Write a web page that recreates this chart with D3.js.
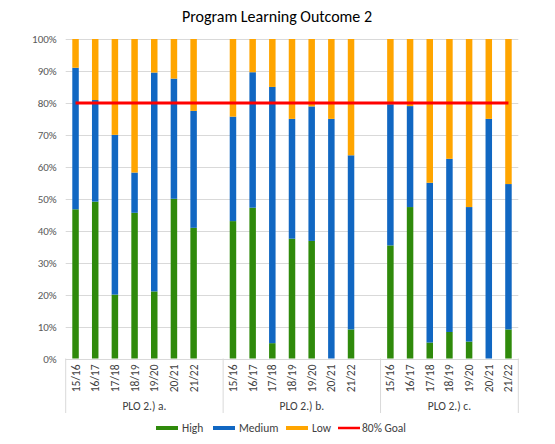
<!DOCTYPE html>
<html lang="en">
<head>
	<meta charset="utf-8">
	<title>Program Learning Outcome 2</title>
	<script src="https://d3js.org/d3.v7.min.js"></script>
	<style>
		body { margin: 0; background: #fff; }
		text { font-family: Calibri, Carlito, Lato, "Liberation Sans", sans-serif; }
	</style>
</head>
<body>
	<script>
	// chart data
	var groups = ["PLO 2.) a.", "PLO 2.) b.", "PLO 2.) c."];
	var years = ["15/16", "16/17", "17/18", "18/19", "19/20", "20/21", "21/22"];
	var high   = [[46.7, 49.1, 20.0, 45.6, 21.0, 50.0, 40.9],
	              [43.0, 47.2,  4.8, 37.5, 36.8,  0.0,  9.1],
	              [35.4, 47.4,  5.0,  8.3,  5.3,  0.0,  9.1]];
	var medium = [[44.3, 31.8, 50.0, 12.6, 68.5, 37.6, 36.6],
	              [32.7, 42.4, 80.2, 37.5, 42.1, 75.0, 54.5],
	              [44.2, 31.6, 50.0, 54.2, 42.1, 75.0, 45.5]];
	var low    = [[ 9.0, 19.1, 30.0, 41.8, 10.5, 12.4, 22.5],
	              [24.3, 10.4, 15.0, 25.0, 21.1, 25.0, 36.4],
	              [20.4, 21.0, 45.0, 37.5, 52.6, 25.0, 45.4]];
	var goal = 80;
	var yTicks = [0, 10, 20, 30, 40, 50, 60, 70, 80, 90, 100];
	var seriesNames = ["High", "Medium", "Low"];
	var colors = ["#2f8a0b", "#1167c2", "#ffa500"];

	var w = 555, h = 444;
	var plotLeft = 65.7, plotRight = 518.3, plotTop = 39, plotBottom = 358.5;

	var svg = d3.select("body").append("svg")
		.attr("width", w)
		.attr("height", h);

	// one slot per year, plus an empty slot closing groups a and b
	var slots = [];
	groups.forEach(function(g, gi) {
		years.forEach(function(yr, yi) {
			slots.push({key: gi + "|" + yr, group: gi, year: yr, yi: yi});
		});
		if (gi < groups.length - 1) slots.push({key: gi + "|blank", group: gi, blank: true});
	});

	var x = d3.scaleBand()
		.domain(slots.map(function(d) { return d.key; }))
		.range([plotLeft, plotRight])
		.padding(0);

	var y = d3.scaleLinear()
		.domain([0, 100])
		.range([plotBottom, plotTop]);

	// gridlines
	svg.append("g")
		.selectAll("line")
		.data(yTicks)
		.enter().append("line")
		.attr("x1", plotLeft)
		.attr("x2", plotRight)
		.attr("y1", function(d) { return Math.round(y(d)) + 0.5; })
		.attr("y2", function(d) { return Math.round(y(d)) + 0.5; })
		.attr("stroke", "#d9d9d9")
		.attr("stroke-width", 1);

	// y axis labels
	var yAxis = d3.axisLeft(y)
		.tickValues(yTicks)
		.tickFormat(function(d) { return d + "%"; })
		.tickSize(0)
		.tickPadding(9);
	var yg = svg.append("g")
		.attr("transform", "translate(" + plotLeft + ",0)")
		.call(yAxis);
	yg.select(".domain").remove();
	yg.selectAll("text")
		.attr("fill", "#595959")
		.style("font-size", "11px")
		.style("font-family", "Calibri, Carlito, Lato, sans-serif");

	// stacked bars
	var rows = [];
	slots.forEach(function(s) {
		if (s.blank) return;
		rows.push({key: s.key, High: high[s.group][s.yi], Medium: medium[s.group][s.yi], Low: low[s.group][s.yi]});
	});
	var stack = d3.stack().keys(seriesNames)(rows);
	var barW = x.bandwidth() * 0.33;

	svg.append("g")
		.selectAll("g")
		.data(stack)
		.enter().append("g")
		.attr("fill", function(d, i) { return colors[i]; })
		.selectAll("rect")
		.data(function(d) { return d; })
		.enter().append("rect")
		.attr("x", function(d) { return x(d.data.key) + (x.bandwidth() - barW) / 2; })
		.attr("y", function(d) { return y(d[1]); })
		.attr("width", barW)
		.attr("height", function(d) { return y(d[0]) - y(d[1]); });

	// category axis line and group separators
	svg.append("line")
		.attr("x1", plotLeft).attr("x2", plotRight)
		.attr("y1", Math.round(plotBottom) + 0.5).attr("y2", Math.round(plotBottom) + 0.5)
		.attr("stroke", "#d9d9d9");

	var seps = [plotLeft];
	slots.forEach(function(s) { if (s.blank) seps.push(x(s.key) + x.bandwidth()); });
	seps.push(plotRight);
	svg.append("g")
		.selectAll("line")
		.data(seps)
		.enter().append("line")
		.attr("x1", function(d) { return d; })
		.attr("x2", function(d) { return d; })
		.attr("y1", plotBottom)
		.attr("y2", 413)
		.attr("stroke", "#d9d9d9");

	// year labels, rotated
	svg.append("g")
		.selectAll("text")
		.data(slots.filter(function(s) { return !s.blank; }))
		.enter().append("text")
		.attr("transform", function(d) {
			return "translate(" + (x(d.key) + x.bandwidth() / 2 + 4) + "," + (plotBottom + 6) + ") rotate(-90)";
		})
		.attr("text-anchor", "end")
		.attr("fill", "#404040")
		.style("font-size", "11.5px")
		.text(function(d) { return d.year; });

	// group labels
	svg.append("g")
		.selectAll("text")
		.data(groups)
		.enter().append("text")
		.attr("x", function(d, i) { return (seps[i] + seps[i + 1]) / 2; })
		.attr("y", 410)
		.attr("text-anchor", "middle")
		.attr("fill", "#404040")
		.style("font-size", "11.5px")
		.text(function(d) { return d; });

	// 80% goal line, first bar to last bar
	var firstKey = slots[0].key, lastKey = slots[slots.length - 1].key;
	svg.append("line")
		.attr("x1", x(firstKey) + x.bandwidth() / 2)
		.attr("x2", x(lastKey) + x.bandwidth() / 2)
		.attr("y1", y(goal))
		.attr("y2", y(goal))
		.attr("stroke", "#ff0000")
		.attr("stroke-width", 3);

	// title
	svg.append("text")
		.attr("x", 277)
		.attr("y", 22)
		.attr("text-anchor", "middle")
		.attr("fill", "#000")
		.style("font-size", "16px")
		.text("Program Learning Outcome 2");

	// legend
	var legend = [
		{name: "High", color: colors[0], x: 156, sw: 4},
		{name: "Medium", color: colors[1], x: 213, sw: 4},
		{name: "Low", color: colors[2], x: 286, sw: 4},
		{name: "80% Goal", color: "#ff0000", x: 338, sw: 2.5}
	];
	var lg = svg.append("g").selectAll("g")
		.data(legend)
		.enter().append("g")
		.attr("transform", function(d) { return "translate(" + d.x + ",428)"; });
	lg.append("line")
		.attr("x1", 0).attr("x2", 22)
		.attr("y1", 0).attr("y2", 0)
		.attr("stroke", function(d) { return d.color; })
		.attr("stroke-width", function(d) { return d.sw; });
	lg.append("text")
		.attr("x", function(d) { return d.name == "80% Goal" ? 24 : 26; })
		.attr("y", 4)
		.attr("fill", "#404040")
		.style("font-size", "11.5px")
		.text(function(d) { return d.name; });
	</script>
</body>
</html>
